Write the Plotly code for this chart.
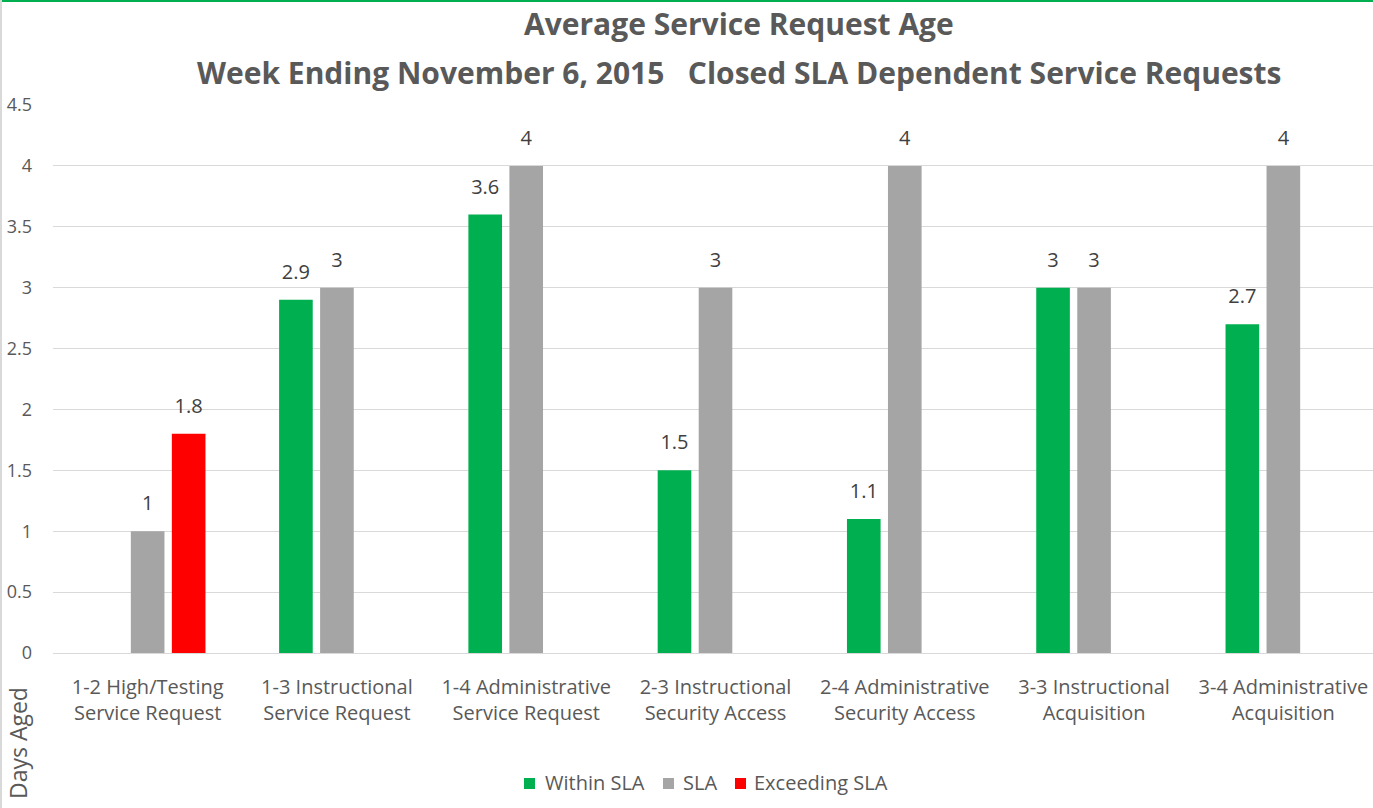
import plotly.graph_objects as go

categories = [
    "1-2 High/Testing<br>Service Request",
    "1-3 Instructional<br>Service Request",
    "1-4 Administrative<br>Service Request",
    "2-3 Instructional<br>Security Access",
    "2-4 Administrative<br>Security Access",
    "3-3 Instructional<br>Acquisition",
    "3-4 Administrative<br>Acquisition",
]
within_sla = [None, 2.9, 3.6, 1.5, 1.1, 3.0, 2.7]
sla = [1, 3, 4, 3, 4, 3, 4]
exceeding_sla = [1.8, None, None, None, None, None, None]
y_ticks = [0, 0.5, 1, 1.5, 2, 2.5, 3, 3.5, 4, 4.5]
series_names = ["Within SLA", "SLA", "Exceeding SLA"]
series_colors = ["#00B050", "#A5A5A5", "#FF0000"]

FONT = "Open Sans"
TXT = "#595959"
LBL = "#404040"

VW = 1373                 # visible window width
W, H = 1378, 808          # plot area runs slightly past the right window edge
L, R, T, B = 53, 0, 105, 155
pw, ph = W - L - R, H - T - B


def px_x(x):
    return (x - L) / pw


def px_y(y):
    return (H - B - y) / ph


fig = go.Figure()
for name, vals, col in zip(series_names, [within_sla, sla, exceeding_sla], series_colors):
    fig.add_trace(go.Bar(
        x=categories, y=vals, name=name, marker_color=col,
        marker_line_width=0, offsetgroup=name, alignmentgroup="g",
        showlegend=False, hoverinfo="x+y+name",
    ))
for name, vals in zip(series_names, [within_sla, sla, exceeding_sla]):
    fig.add_trace(go.Scatter(
        x=categories, y=vals, mode="markers+text", name=name + " label",
        marker=dict(size=24, color="rgba(0,0,0,0)"),
        text=[("" if v is None else f"{v:g}") for v in vals],
        textposition="top center", cliponaxis=False,
        textfont=dict(family=FONT, size=20, color=LBL),
        offsetgroup=name, alignmentgroup="g",
        showlegend=False, hoverinfo="skip",
    ))

fig.update_layout(
    width=W, height=H,
    margin=dict(l=L, r=R, t=T, b=B, autoexpand=False),
    paper_bgcolor="white", plot_bgcolor="white",
    barmode="group", bargap=0.35, bargroupgap=0.18,
    scattermode="group", scattergap=0.35,
    font=dict(family=FONT, color=TXT),
    xaxis=dict(showgrid=False, showline=False, ticks="", ticklabelstandoff=20,
               tickfont=dict(family=FONT, size=20, color=TXT)),
    yaxis=dict(range=[0, 4.5], tickvals=y_ticks,
               ticktext=[f"{v:g}" for v in y_ticks],
               showgrid=True, gridcolor="#D9D9D9", gridwidth=1,
               zeroline=True, zerolinecolor="#D9D9D9", zerolinewidth=1,
               showline=False, ticks="", ticklabelstandoff=20,
               tickfont=dict(family=FONT, size=18, color=TXT)),
    showlegend=False,
)

# title lines
fig.add_annotation(text="<b>Average Service Request Age</b>", xref="paper", yref="paper",
                   x=px_x(739), y=px_y(23), xanchor="center", yanchor="middle",
                   showarrow=False, font=dict(family=FONT, size=30, color=TXT))
fig.add_annotation(text="<b>Week Ending November 6, 2015   Closed SLA Dependent Service Requests</b>",
                   xref="paper", yref="paper",
                   x=px_x(739), y=px_y(72), xanchor="center", yanchor="middle",
                   showarrow=False, font=dict(family=FONT, size=30, color=TXT))

# y-axis title
fig.add_annotation(text="Days Aged", textangle=-90, xref="paper", yref="paper",
                   x=px_x(18), y=px_y(743), xanchor="center", yanchor="middle",
                   showarrow=False, font=dict(family=FONT, size=23, color=TXT))

# legend
legend_x = [(524, 543), (663, 681), (735, 752)]
for (sq, tx), name, col in zip(legend_x, series_names, series_colors):
    fig.add_shape(type="rect", xref="paper", yref="paper",
                  x0=px_x(sq), x1=px_x(sq + 11), y0=px_y(789), y1=px_y(778),
                  fillcolor=col, line_width=0)
    fig.add_annotation(text=name, xref="paper", yref="paper",
                       x=px_x(tx), y=px_y(783), xanchor="left", yanchor="middle",
                       showarrow=False, font=dict(family=FONT, size=20, color=TXT))

# figure border: green top, grey left
fig.add_shape(type="line", xref="paper", yref="paper",
              x0=px_x(0), x1=px_x(W), y0=px_y(1), y1=px_y(1),
              line=dict(color="#00B050", width=2))
fig.add_shape(type="line", xref="paper", yref="paper",
              x0=px_x(1), x1=px_x(1), y0=px_y(H), y1=px_y(0),
              line=dict(color="#D9D9D9", width=2))

fig.write_html(
    "out.html",
    config={"displayModeBar": False},
    post_script="document.body.style.margin='0';document.body.style.overflow='hidden';"
                "document.documentElement.style.overflow='hidden';",
)
